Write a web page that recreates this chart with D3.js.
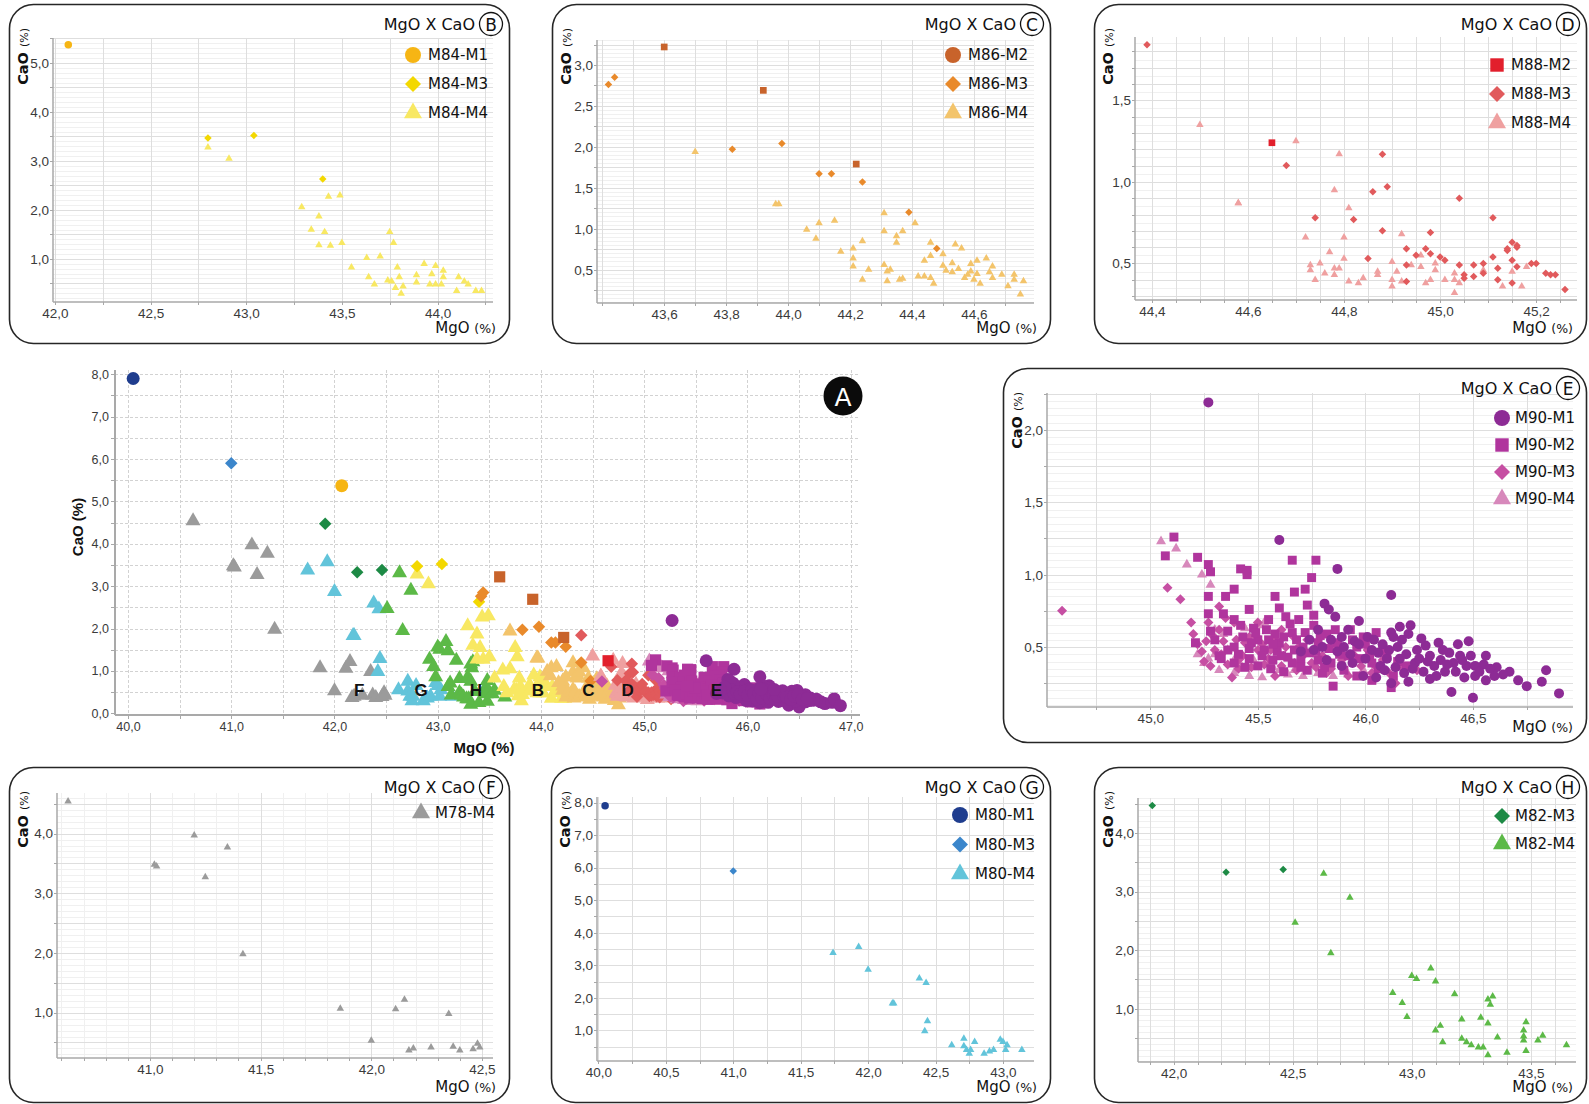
<!DOCTYPE html>
<html>
<head>
<meta charset="utf-8">
<script src="https://cdn.jsdelivr.net/npm/d3@7"></script>
<style>
html, body { margin: 0; padding: 0; background: #fff; }
svg { display: block; }
</style>
</head>
<body>
<svg id="chart" width="1589" height="1104"></svg>
<script>
// ---------- Data: [MgO %, CaO %] per sample series ----------
const M78_M4 = [[40.63,4.54],[41.02,3.48],[41.03,3.45],[41.20,3.97],[41.25,3.27],[41.35,3.77],[41.42,1.98],[41.86,1.07],[42.00,0.53],[42.11,1.06],[42.15,1.22],[42.17,0.37],[42.19,0.40],[42.27,0.42],[42.35,0.98],[42.37,0.43],[42.40,0.37],[42.46,0.39],[42.48,0.48],[42.49,0.42]];

const M80_M1 = [[40.05,7.90]];
const M80_M3 = [[41.00,5.90]];
const M80_M4 = [[41.74,3.38],[41.93,3.57],[42.00,2.87],[42.18,1.83],[42.19,1.83],[42.38,2.60],[42.43,2.46],[42.44,1.29],[42.42,0.98],[42.62,0.55],[42.71,0.75],[42.71,0.52],[42.73,0.40],[42.75,0.29],[42.76,0.40],[42.79,0.65],[42.86,0.29],[42.90,0.36],[42.93,0.40],[42.98,0.72],[43.00,0.65],[43.02,0.40],[43.03,0.55],[43.14,0.40]];

const M82_M3 = [[41.91,4.47],[42.22,3.33],[42.46,3.38]];
const M82_M4 = [[42.63,3.31],[42.74,2.90],[42.51,2.47],[42.66,1.95],[42.92,1.27],[42.96,1.10],[42.98,0.86],[43.00,1.56],[43.02,1.51],[43.08,1.69],[43.10,1.47],[43.10,0.63],[43.12,0.71],[43.13,0.43],[43.18,1.25],[43.21,0.82],[43.21,0.49],[43.23,0.43],[43.25,0.38],[43.28,0.34],[43.29,0.85],[43.30,0.34],[43.32,0.75],[43.32,1.16],[43.33,1.07],[43.34,1.21],[43.32,0.21],[43.36,0.51],[43.40,0.25],[43.47,0.53],[43.47,0.63],[43.47,0.46],[43.48,0.77],[43.48,0.28],[43.53,0.46],[43.55,0.54],[43.65,0.38]];

const M84_M1 = [[42.07,5.37]];
const M84_M3 = [[42.80,3.47],[43.04,3.52],[43.40,2.63]];
const M84_M4 = [[42.80,3.28],[42.91,3.05],[43.29,2.06],[43.43,2.27],[43.49,2.30],[43.38,1.87],[43.34,1.60],[43.41,1.55],[43.38,1.28],[43.44,1.27],[43.50,1.33],[43.75,1.55],[43.77,1.33],[43.55,0.83],[43.63,1.02],[43.70,1.05],[43.64,0.63],[43.67,0.48],[43.74,0.56],[43.76,0.54],[43.79,0.83],[43.80,0.63],[43.78,0.41],[43.82,0.44],[43.81,0.29],[43.89,0.67],[43.89,0.52],[43.93,0.90],[43.99,0.86],[43.97,0.69],[43.96,0.48],[43.99,0.48],[44.03,0.76],[44.03,0.63],[44.02,0.48],[44.10,0.35],[44.11,0.63],[44.14,0.54],[44.16,0.48],[44.20,0.35],[44.23,0.35]];

const M86_M2 = [[43.60,3.22],[43.92,2.69],[44.22,1.79]];
const M86_M3 = [[43.42,2.76],[43.44,2.85],[43.82,1.97],[43.98,2.04],[44.10,1.67],[44.14,1.67],[44.24,1.57],[44.39,1.20],[44.48,0.76]];
const M86_M4 = [[43.70,1.94],[43.96,1.30],[43.97,1.30],[44.06,0.99],[44.09,0.88],[44.10,1.07],[44.15,1.10],[44.17,0.72],[44.21,0.76],[44.21,0.64],[44.21,0.54],[44.24,0.38],[44.24,0.85],[44.26,0.50],[44.31,1.19],[44.31,0.97],[44.31,0.56],[44.32,0.48],[44.32,0.36],[44.33,0.50],[44.35,0.91],[44.35,0.83],[44.37,0.97],[44.36,0.38],[44.37,0.39],[44.41,1.07],[44.42,0.42],[44.44,0.61],[44.44,0.42],[44.46,0.83],[44.46,0.40],[44.46,0.67],[44.47,0.33],[44.50,0.69],[44.50,0.55],[44.51,0.49],[44.53,0.58],[44.53,0.47],[44.54,0.81],[44.55,0.51],[44.56,0.76],[44.57,0.40],[44.58,0.44],[44.59,0.57],[44.59,0.48],[44.60,0.38],[44.61,0.61],[44.61,0.45],[44.62,0.33],[44.64,0.64],[44.65,0.47],[44.66,0.54],[44.66,0.40],[44.69,0.44],[44.71,0.30],[44.73,0.44],[44.73,0.38],[44.76,0.36],[44.75,0.20]];

const M88_M2 = [[44.65,1.24]];
const M88_M3 = [[44.39,1.84],[44.68,1.10],[44.74,0.78],[44.82,0.77],[44.86,0.94],[44.88,1.17],[44.89,0.97],[44.88,0.70],[44.85,0.53],[44.93,0.59],[44.93,0.49],[44.93,0.39],[44.95,0.55],[44.97,0.59],[44.98,0.56],[44.98,0.69],[45.00,0.54],[45.01,0.52],[45.04,0.90],[45.04,0.49],[45.05,0.43],[45.05,0.41],[45.07,0.49],[45.07,0.42],[45.09,0.50],[45.09,0.44],[45.11,0.78],[45.11,0.54],[45.12,0.47],[45.12,0.40],[45.14,0.58],[45.14,0.59],[45.15,0.63],[45.16,0.60],[45.16,0.61],[45.15,0.52],[45.15,0.38],[45.16,0.48],[45.19,0.50],[45.20,0.50],[45.22,0.44],[45.23,0.43],[45.24,0.43],[45.26,0.34]];
const M88_M4 = [[44.50,1.35],[44.58,0.87],[44.58,0.87],[44.70,1.25],[44.79,1.17],[44.78,0.95],[44.81,0.84],[44.80,0.66],[44.72,0.66],[44.73,0.49],[44.73,0.46],[44.74,0.40],[44.75,0.50],[44.76,0.44],[44.77,0.57],[44.78,0.47],[44.78,0.43],[44.79,0.47],[44.80,0.53],[44.81,0.39],[44.83,0.38],[44.84,0.41],[44.87,0.45],[44.87,0.43],[44.90,0.51],[44.90,0.40],[44.90,0.36],[44.91,0.45],[44.92,0.68],[44.92,0.39],[44.94,0.49],[44.96,0.48],[44.96,0.55],[44.97,0.38],[44.98,0.40],[44.99,0.50],[44.99,0.46],[45.01,0.40],[45.03,0.40],[45.03,0.44],[45.03,0.32],[45.04,0.38],[45.09,0.46],[45.13,0.36],[45.15,0.45],[45.17,0.36],[45.18,0.48]];

const M90_M1 = [[45.27,2.19],[45.60,1.24],[45.87,1.04],[46.12,0.86],[45.97,0.68],[46.21,0.65],[46.16,0.64],[46.12,0.60],[46.20,0.59],[46.34,0.53],[46.43,0.52],[46.48,0.54],[46.40,0.19],[46.50,0.15],[46.71,0.27],[46.75,0.23],[46.82,0.26],[46.84,0.34],[46.90,0.18],[46.61,0.36],[46.67,0.33],[46.64,0.31],[46.56,0.44],[46.55,0.38],[46.56,0.27],[46.51,0.30],[46.46,0.29],[46.47,0.37],[46.41,0.39],[46.39,0.46],[46.37,0.33],[46.32,0.37],[46.30,0.44],[46.28,0.51],[46.24,0.48],[46.23,0.39],[46.18,0.32],[46.16,0.42],[46.15,0.50],[46.10,0.42],[46.07,0.37],[46.03,0.48],[46.01,0.57],[45.95,0.54],[45.92,0.62],[45.89,0.57],[45.86,0.71],[45.81,0.80],[45.83,0.76],[45.80,0.50],[45.76,0.48],[46.05,0.29],[46.12,0.25],[46.30,0.28],[45.94,0.39],[45.99,0.30],[46.08,0.52],[46.33,0.30],[46.44,0.44],[46.51,0.37],[46.60,0.30],[45.89,0.37],[45.82,0.41],[46.20,0.26],
  [45.84,0.55],[45.87,0.47],[45.90,0.50],[45.93,0.45],[45.97,0.52],[46.00,0.42],[46.04,0.55],[46.06,0.46],[46.09,0.34],[46.11,0.48],[46.14,0.36],[46.17,0.55],[46.19,0.45],[46.22,0.35],[46.25,0.42],[46.27,0.33],[46.29,0.40],[46.35,0.41],[46.36,0.48],[46.38,0.38],[46.42,0.33],[46.45,0.41],[46.49,0.44],[46.53,0.33],[46.58,0.35],[45.78,0.62],[45.74,0.55],[45.70,0.47],[46.26,0.56],[46.13,0.57]];
const M90_M2 = [[45.11,1.26],[45.07,1.13],[45.22,1.12],[45.27,1.07],[45.28,1.02],[45.27,0.85],[45.42,1.04],[45.45,1.00],[45.45,1.03],[45.66,1.10],[45.77,1.10],[45.75,0.98],[45.72,0.90],[45.67,0.88],[45.58,0.85],[45.35,0.85],[45.39,0.90],[45.39,0.69],[45.46,0.76],[45.60,0.77],[45.73,0.79],[45.21,0.53],[45.28,0.61],[45.34,0.73],[45.48,0.63],[45.55,0.69],[45.63,0.71],[45.69,0.69],[45.76,0.65],[45.82,0.59],[45.58,0.59],[45.60,0.53],[45.66,0.60],[45.71,0.50],[45.53,0.48],[45.50,0.55],[45.43,0.57],[45.36,0.48],[45.32,0.44],[45.39,0.39],[45.46,0.42],[45.57,0.41],[45.66,0.39],[45.73,0.34],[45.78,0.41],[45.84,0.39],[45.92,0.44],[45.85,0.23],[45.96,0.30],[46.03,0.39],[46.05,0.60],[46.12,0.22],[46.13,0.30],[46.19,0.37],[45.93,0.62],[45.99,0.57],[45.87,0.53],[45.78,0.53],[45.62,0.33],[45.50,0.37],[45.39,0.50],[45.55,0.55],[45.77,0.47],[46.08,0.50],[45.96,0.50],[46.03,0.27],[45.80,0.32],[45.67,0.48],[45.46,0.49],[45.27,0.73],[45.36,0.61],[45.76,0.72],
  [45.30,0.55],[45.33,0.42],[45.41,0.45],[45.44,0.36],[45.47,0.53],[45.52,0.44],[45.54,0.62],[45.56,0.35],[45.59,0.47],[45.62,0.57],[45.64,0.43],[45.65,0.66],[45.68,0.55],[45.70,0.42],[45.72,0.60],[45.74,0.46],[45.79,0.58],[45.81,0.36],[45.83,0.49],[45.86,0.62],[45.88,0.45],[45.90,0.34],[45.94,0.55],[45.97,0.42],[46.00,0.52],[46.02,0.44],[46.06,0.35],[46.10,0.46],[46.15,0.40],[45.57,0.52],[45.49,0.60],[45.42,0.65],[45.61,0.44],[45.70,0.36]];
const M90_M3 = [[44.59,0.75],[45.08,0.91],[45.14,0.83],[45.19,0.67],[45.27,0.67],[45.20,0.59],[45.24,0.47],[45.26,0.54],[45.32,0.78],[45.34,0.54],[45.28,0.37],[45.36,0.38],[45.30,0.48],[45.38,0.29],[45.41,0.41],[45.44,0.53],[45.50,0.48],[45.53,0.38],[45.56,0.48],[45.58,0.30],[45.62,0.44],[45.67,0.39],[45.69,0.50],[45.75,0.39],[45.82,0.32],[45.89,0.41],[45.98,0.37],[46.01,0.48],[46.08,0.41],[46.16,0.37],[46.24,0.34],[45.61,0.62],[45.50,0.67],[45.39,0.67],[45.32,0.62],[45.46,0.57],[45.73,0.55],[45.80,0.44],[45.92,0.30],[46.03,0.32],[45.86,0.48],[45.61,0.37],[45.41,0.35],[45.25,0.40],[46.14,0.25],
  [45.22,0.52],[45.29,0.58],[45.33,0.45],[45.35,0.70],[45.40,0.55],[45.43,0.44],[45.47,0.36],[45.49,0.58],[45.52,0.52],[45.55,0.42],[45.58,0.55],[45.63,0.50],[45.66,0.58],[45.68,0.34],[45.71,0.44],[45.77,0.36],[45.84,0.35],[45.95,0.44],[46.05,0.36],[46.11,0.32]];
const M90_M4 = [[45.05,1.23],[45.12,1.18],[45.17,1.07],[45.24,1.00],[45.28,0.93],[45.34,0.59],[45.27,0.42],[45.32,0.34],[45.39,0.32],[45.44,0.63],[45.52,0.29],[45.51,0.65],[45.55,0.38],[45.53,0.67],[45.60,0.34],[45.67,0.34],[45.71,0.30],[45.78,0.32],[45.92,0.31],[45.99,0.34],[45.39,0.41],[45.25,0.39],[45.36,0.48],[45.48,0.41],
  [45.30,0.45],[45.42,0.38],[45.46,0.30],[45.57,0.36],[45.64,0.31],[45.85,0.30],[45.30,0.62],[45.22,0.45]];

// Series names, colours and marker shapes
const seriesNames  = ["M78-M4","M80-M1","M80-M3","M80-M4","M82-M3","M82-M4","M84-M1","M84-M3","M84-M4","M86-M2","M86-M3","M86-M4","M88-M2","M88-M3","M88-M4","M90-M1","M90-M2","M90-M3","M90-M4"];
const seriesData   = [M78_M4, M80_M1, M80_M3, M80_M4, M82_M3, M82_M4, M84_M1, M84_M3, M84_M4, M86_M2, M86_M3, M86_M4, M88_M2, M88_M3, M88_M4, M90_M1, M90_M2, M90_M3, M90_M4];
const seriesColors = ["#9b9b9b","#1f3d8e","#3b86cb","#62c4da","#1d8a45","#5cb947","#f6b514","#f3d800","#f8e862","#c8632b","#e98a2b","#f3c46b","#e21f2c","#e15a5c","#efa0a0","#8d2b95","#b0359d","#c64fa3","#d788bb"];
const seriesShapes = ["triangle","circle","diamond","triangle","diamond","triangle","circle","diamond","triangle","square","diamond","triangle","square","diamond","triangle","circle","square","diamond","triangle"];

// Tick values per panel
const ticksA_x = [40,41,42,43,44,45,46,47];
const ticksA_y = [0,1,2,3,4,5,6,7,8];
const ticksB_x = [42.0,42.5,43.0,43.5,44.0];
const ticksB_y = [1,2,3,4,5];
const ticksC_x = [43.6,43.8,44.0,44.2,44.4,44.6];
const ticksC_y = [0.5,1.0,1.5,2.0,2.5,3.0];
const ticksD_x = [44.4,44.6,44.8,45.0,45.2];
const ticksD_y = [0.5,1.0,1.5];
const ticksE_x = [45.0,45.5,46.0,46.5];
const ticksE_y = [0.5,1.0,1.5,2.0];
const ticksF_x = [41.0,41.5,42.0,42.5];
const ticksF_y = [1,2,3,4];
const ticksG_x = [40.0,40.5,41.0,41.5,42.0,42.5,43.0];
const ticksG_y = [1,2,3,4,5,6,7,8];
const ticksH_x = [42.0,42.5,43.0,43.5];
const ticksH_y = [1,2,3,4];

// Group tags written inside the overview plot
const tagLabels = ["F","G","H","B","C","D","E"];
const tagMgO    = [42.24,42.84,43.37,43.97,44.46,44.84,45.70];
const tagCaO    = 0.54;

// ---------- Drawing ----------
const svg = d3.select("#chart");
const FONT_T = "'DejaVu Sans', 'Noto Sans', sans-serif";
const FONT_N = "'Liberation Sans', Arial, sans-serif";
const fmt = d3.formatLocale({decimal: ",", thousands: ".", grouping: [3], currency: ["", ""]}).format(".1f");

const S = {};
seriesNames.forEach((n, i) => S[n] = {name: n, data: seriesData[i], color: seriesColors[i], shape: seriesShapes[i]});

function symbolPath(shape, w) {
  if (shape === "circle") return d3.symbol().type(d3.symbolCircle).size(Math.PI * w * w / 4)();
  if (shape === "square") return d3.symbol().type(d3.symbolSquare).size(w * w * 0.8)();
  if (shape === "diamond") return d3.symbol().type(d3.symbolSquare).size(w * w * 0.5)();
  return d3.symbol().type(d3.symbolTriangle).size(Math.sqrt(3) / 4 * w * w)();
}

function drawSeries(g, s, x, y, w) {
  const shape = s.shape;
  g.append("g").selectAll("path").data(s.data).join("path")
    .attr("d", symbolPath(shape, w))
    .attr("transform", d => `translate(${x(d[0])},${y(d[1])})` + (shape === "diamond" ? " rotate(45)" : ""))
    .attr("fill", s.color);
}

function steps(dom, step) {
  const out = [];
  const i0 = Math.ceil(dom[0] / step - 1e-6), i1 = Math.floor(dom[1] / step + 1e-6);
  for (let i = i0; i <= i1; i++) out.push(+(i * step).toFixed(4));
  return out;
}

function grid(g, x, y, p, xs, ys, color, width, dash) {
  const [px0, py0, px1, py1] = p.plot;
  g.append("g").selectAll("line").data(xs).join("line")
    .attr("x1", d => Math.round(x(d)) + 0.5).attr("x2", d => Math.round(x(d)) + 0.5)
    .attr("y1", py0).attr("y2", py1)
    .attr("stroke", color).attr("stroke-width", width).attr("stroke-dasharray", dash || null);
  g.append("g").selectAll("line").data(ys).join("line")
    .attr("y1", d => Math.round(y(d)) + 0.5).attr("y2", d => Math.round(y(d)) + 0.5)
    .attr("x1", px0).attr("x2", px1)
    .attr("stroke", color).attr("stroke-width", width).attr("stroke-dasharray", dash || null);
}

function axes(g, x, y, p, opt) {
  const [px0, py0, px1, py1] = p.plot;
  const ax = g.append("g").attr("transform", `translate(0,${py1})`)
    .call(d3.axisBottom(x).tickValues(p.xt).tickFormat(fmt).tickSize(0).tickPadding(opt.padX));
  const ay = g.append("g").attr("transform", `translate(${px0},0)`)
    .call(d3.axisLeft(y).tickValues(p.yt).tickFormat(fmt).tickSize(0).tickPadding(opt.padY));
  [ax, ay].forEach(a => {
    a.select(".domain").remove();
    a.attr("font-family", FONT_N).attr("font-size", opt.fs);
    a.selectAll("text").attr("fill", "#3a3a3a");
  });
  // small tick marks
  g.append("g").selectAll("line").data(steps(p.xd, p.xk)).join("line")
    .attr("x1", d => Math.round(x(d)) + 0.5).attr("x2", d => Math.round(x(d)) + 0.5)
    .attr("y1", py1).attr("y2", py1 + opt.tick).attr("stroke", "#a8a8a8").attr("stroke-width", 1);
  g.append("g").selectAll("line").data(steps(p.yd, p.yk)).join("line")
    .attr("y1", d => Math.round(y(d)) + 0.5).attr("y2", d => Math.round(y(d)) + 0.5)
    .attr("x1", px0 - opt.tick).attr("x2", px0).attr("stroke", "#a8a8a8").attr("stroke-width", 1);
  // axis lines
  g.append("line").attr("x1", px0).attr("x2", px1).attr("y1", py1).attr("y2", py1)
    .attr("stroke", "#a9a9a9").attr("stroke-width", opt.aw);
  g.append("line").attr("x1", px0).attr("x2", px0).attr("y1", py0).attr("y2", py1)
    .attr("stroke", "#a9a9a9").attr("stroke-width", opt.aw);
}

// ---------- Overview plot (A) ----------
(function drawOverview() {
  const p = {plot: [115, 370, 860, 715], xd: [39.874, 47.09], yd: [-0.04, 8.1], xt: ticksA_x, yt: ticksA_y, xk: 0.5, yk: 0.5};
  const g = svg.append("g");
  const x = d3.scaleLinear().domain(p.xd).range([p.plot[0], p.plot[2]]);
  const y = d3.scaleLinear().domain(p.yd).range([p.plot[3], p.plot[1]]);
  grid(g, x, y, p, steps(p.xd, 0.5), steps([0.5, 8.1], 0.5), "#d2d2d2", 1, "3,2");
  axes(g, x, y, p, {padX: 7, padY: 6, fs: 12.5, tick: 4, aw: 2});

  const order = ["M78-M4","M80-M4","M80-M3","M80-M1","M82-M4","M82-M3","M84-M4","M84-M3","M84-M1",
                 "M86-M4","M86-M3","M86-M2","M88-M4","M88-M3","M88-M2","M90-M4","M90-M3","M90-M2","M90-M1"];
  const sizes = {circle: 13, square: 12.5, diamond: 12.5, triangle: 15};
  order.forEach(n => drawSeries(g, S[n], x, y, sizes[S[n].shape]));

  g.append("g").selectAll("text").data(tagLabels).join("text")
    .attr("x", (d, i) => x(tagMgO[i])).attr("y", y(tagCaO))
    .attr("text-anchor", "middle").attr("dominant-baseline", "central")
    .attr("font-family", FONT_N).attr("font-weight", "bold").attr("font-size", 17)
    .attr("fill", "#111").text(d => d);

  // axis titles
  g.append("text").attr("x", 484).attr("y", 753).attr("text-anchor", "middle")
    .attr("font-family", FONT_N).attr("font-weight", "bold").attr("font-size", 15).attr("fill", "#111")
    .text("MgO (%)");
  g.append("text").attr("transform", "translate(83,527) rotate(-90)").attr("text-anchor", "middle")
    .attr("font-family", FONT_N).attr("font-weight", "bold").attr("font-size", 15).attr("fill", "#111")
    .text("CaO (%)");

  // panel badge
  g.append("circle").attr("cx", 843).attr("cy", 396).attr("r", 19.5).attr("fill", "#0b0b0b");
  g.append("text").attr("x", 843).attr("y", 397).attr("text-anchor", "middle").attr("dominant-baseline", "central")
    .attr("font-family", FONT_T).attr("font-size", 25).attr("fill", "#fff").text("A");
})();

// ---------- Detail panels (B–H) ----------
const panels = [
  {tag: "B", box: [9, 4, 509, 343], plot: [53, 38, 493, 302], xd: [41.99, 44.29], yd: [0.12, 5.51], xt: ticksB_x, yt: ticksB_y,
   gx: [0.25, 0], gy: [0.5, 0.1], xk: 0.25, yk: 0.5, ms: 7.5, series: ["M84-M1","M84-M3","M84-M4"], legShapes: null,
   leg: {mx: 96, lx: 81, top: 51, gap: 29}},
  {tag: "C", box: [552, 4, 1050, 343], plot: [597, 40, 1034, 303], xd: [43.383, 44.794], yd: [0.093, 3.305], xt: ticksC_x, yt: ticksC_y,
   gx: [0.1, 0], gy: [0.25, 0.05], xk: 0.1, yk: 0.25, ms: 7.5, series: ["M86-M2","M86-M3","M86-M4"], legShapes: ["circle", null, null],
   leg: {mx: 97, lx: 82, top: 51, gap: 29}},
  {tag: "D", box: [1094, 4, 1586, 343], plot: [1135, 37, 1577, 300], xd: [44.365, 45.285], yd: [0.276, 1.888], xt: ticksD_x, yt: ticksD_y,
   gx: [0.05, 0], gy: [0.1, 0.05], xk: 0.05, yk: 0.1, ms: 7.5, series: ["M88-M2","M88-M3","M88-M4"], legShapes: null,
   leg: {mx: 89, lx: 75, top: 61, gap: 29}},
  {tag: "E", box: [1003, 368, 1586, 742], plot: [1047, 393, 1573, 707], xd: [44.52, 46.965], yd: [0.086, 2.255], xt: ticksE_x, yt: ticksE_y,
   gx: [0.25, 0], gy: [0.25, 0.05], xk: 0.25, yk: 0.25, ms: 10, series: ["M90-M1","M90-M2","M90-M3","M90-M4"], legShapes: null,
   leg: {mx: 84, lx: 71, top: 50, gap: 27}},
  {tag: "F", box: [9, 767, 509, 1102], plot: [57, 793, 493, 1058], xd: [40.58, 42.55], yd: [0.24, 4.68], xt: ticksF_x, yt: ticksF_y,
   gx: [0.5, 0.1], gy: [0.5, 0.1], xk: 0.1, yk: 0.5, ms: 7.5, series: ["M78-M4"], legShapes: null,
   leg: {mx: 88, lx: 74, top: 46, gap: 29}},
  {tag: "G", box: [551, 767, 1050, 1102], plot: [597, 797, 1034, 1061], xd: [39.99, 43.23], yd: [0.06, 8.17], xt: ticksG_x, yt: ticksG_y,
   gx: [0.25, 0], gy: [0.5, 0], xk: 0.25, yk: 0.5, ms: 7.5, series: ["M80-M1","M80-M3","M80-M4"], legShapes: null,
   leg: {mx: 90, lx: 75, top: 48, gap: 29.5}},
  {tag: "H", box: [1094, 767, 1586, 1102], plot: [1138, 798, 1576, 1062], xd: [41.85, 43.69], yd: [0.09, 4.6], xt: ticksH_x, yt: ticksH_y,
   gx: [0.1, 0], gy: [0.5, 0.1], xk: 0.1, yk: 0.5, ms: 7.5, series: ["M82-M3","M82-M4"], legShapes: null,
   leg: {mx: 84, lx: 71, top: 49, gap: 28}}
];

panels.forEach(p => {
  const g = svg.append("g");
  const [bx0, by0, bx1, by1] = p.box;
  const [px0, py0, px1, py1] = p.plot;
  g.append("rect").attr("x", bx0 + 0.5).attr("y", by0 + 0.5).attr("width", bx1 - bx0).attr("height", by1 - by0)
    .attr("rx", 24).attr("ry", 24).attr("fill", "#fff").attr("stroke", "#262626").attr("stroke-width", 1.6);

  const x = d3.scaleLinear().domain(p.xd).range([px0, px1]);
  const y = d3.scaleLinear().domain(p.yd).range([py1, py0]);

  if (p.gx[1] || p.gy[1]) grid(g, x, y, p, p.gx[1] ? steps(p.xd, p.gx[1]) : [], p.gy[1] ? steps(p.yd, p.gy[1]) : [], "#f0f0f0", 1);
  grid(g, x, y, p, steps(p.xd, p.gx[0]), steps(p.yd, p.gy[0]), "#dedede", 1);
  axes(g, x, y, p, {padX: 6, padY: 4, fs: 13.5, tick: 3, aw: 1.5});

  // markers: last legend entry drawn first
  p.series.slice().reverse().forEach(n => drawSeries(g, S[n], x, y, p.ms));

  // title and panel letter
  const cx = bx1 - 18, cy = by0 + 20;
  g.append("text").attr("x", cx - 16).attr("y", cy).attr("dominant-baseline", "central").attr("text-anchor", "end")
    .attr("font-family", FONT_T).attr("font-size", 16).attr("fill", "#111").text("MgO X CaO");
  g.append("circle").attr("cx", cx).attr("cy", cy).attr("r", 11.5).attr("fill", "#fff").attr("stroke", "#111").attr("stroke-width", 1.3);
  g.append("text").attr("x", cx).attr("y", cy + 1).attr("dominant-baseline", "central").attr("text-anchor", "middle")
    .attr("font-family", FONT_T).attr("font-size", 17).attr("fill", "#111").text(p.tag);

  // legend
  p.series.forEach((n, i) => {
    const s = S[n];
    const shape = (p.legShapes && p.legShapes[i]) || s.shape;
    const ly = by0 + p.leg.top + i * p.leg.gap;
    const lw = {circle: 16, square: 15, diamond: 16, triangle: 18}[shape];
    g.append("path").attr("d", symbolPath(shape, lw))
      .attr("transform", `translate(${bx1 - p.leg.mx},${ly})` + (shape === "diamond" ? " rotate(45)" : ""))
      .attr("fill", s.color);
    g.append("text").attr("x", bx1 - p.leg.lx).attr("y", ly).attr("dominant-baseline", "central")
      .attr("font-family", FONT_T).attr("font-size", 15).attr("fill", "#111").text(n);
  });

  // axis titles
  const xt = g.append("text").attr("x", bx1 - 13).attr("y", by1 - 10).attr("text-anchor", "end")
    .attr("font-family", FONT_T).attr("fill", "#111");
  xt.append("tspan").attr("font-size", 15).text("MgO ");
  xt.append("tspan").attr("font-size", 12.5).text("(%)");
  const yt = g.append("text").attr("transform", `translate(${bx0 + 19},${by0 + 24}) rotate(-90)`).attr("text-anchor", "end")
    .attr("font-family", FONT_T).attr("fill", "#111");
  yt.append("tspan").attr("font-size", 14.5).attr("font-weight", "bold").text("CaO ");
  yt.append("tspan").attr("font-size", 11).text("(%)");
});
</script>
</body>
</html>
